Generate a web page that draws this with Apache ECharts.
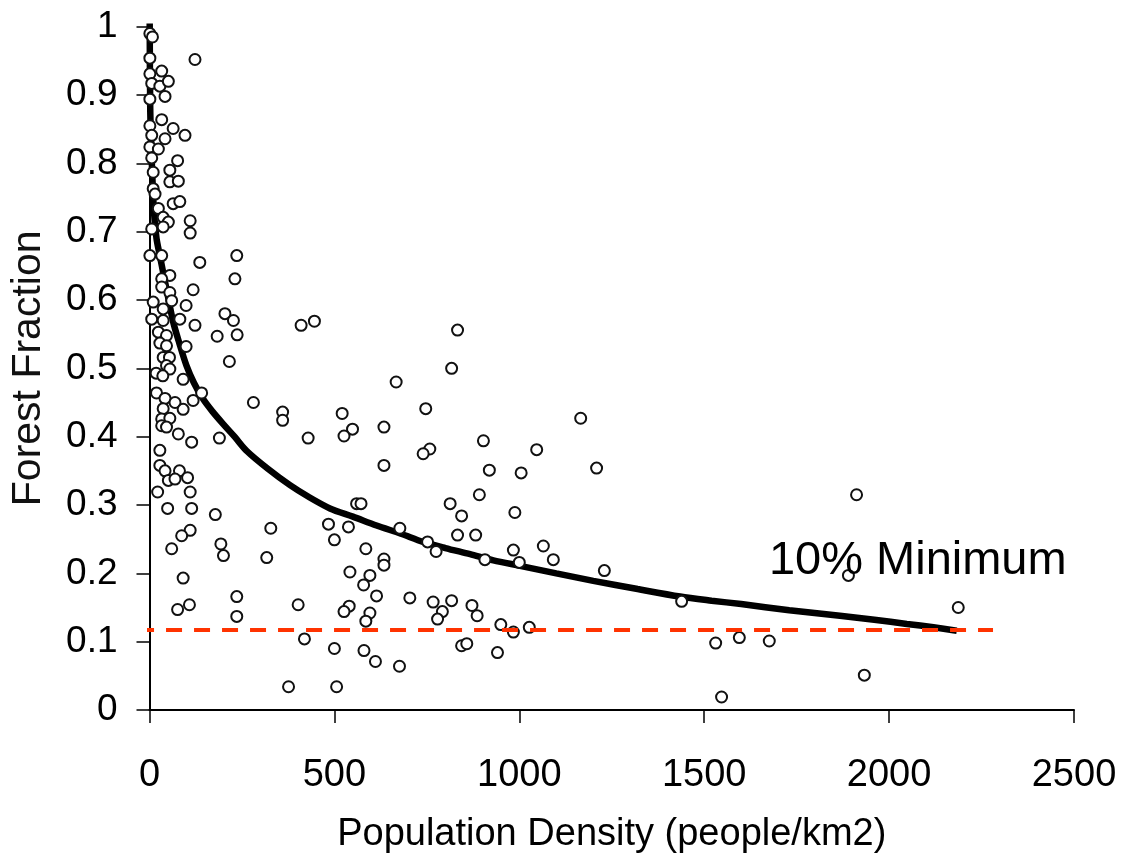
<!DOCTYPE html>
<html>
<head>
<meta charset="utf-8">
<title>Forest Fraction vs Population Density</title>
<script src="https://cdn.jsdelivr.net/npm/echarts@6/dist/echarts.min.js"></script>
<style>
	html, body { margin: 0; padding: 0; background: #fff; }
	#chart { width: 1132px; height: 859px; }
</style>
</head>
<body>
<div id="chart"></div>
<script>
	// observed points [population density, forest fraction]
	var points = [
		[1, 0.99], [8, 0.985], [123, 0.952], [1, 0.954], [1, 0.931], [33, 0.935], [6, 0.917], [28, 0.913],
		[51, 0.92], [42, 0.898], [1, 0.894], [33, 0.864], [1, 0.855], [64, 0.851], [96, 0.841], [6, 0.841],
		[42, 0.836], [1, 0.824], [24, 0.821], [6, 0.808], [76, 0.804], [55, 0.79], [10, 0.787], [55, 0.773],
		[78, 0.774], [10, 0.763], [15, 0.755], [64, 0.741], [82, 0.744], [24, 0.734], [37, 0.721], [110, 0.716],
		[110, 0.698], [51, 0.714], [6, 0.704], [37, 0.707],
		[1, 0.665], [33, 0.665], [136, 0.655], [236, 0.665], [231, 0.631], [55, 0.636], [33, 0.631], [33, 0.619],
		[55, 0.611], [118, 0.615], [60, 0.599], [10, 0.597], [99, 0.592], [37, 0.587], [6, 0.572], [37, 0.57],
		[82, 0.572], [204, 0.58], [227, 0.57], [123, 0.563], [24, 0.553], [46, 0.548], [183, 0.547], [237, 0.549],
		[28, 0.537], [46, 0.533], [99, 0.532], [37, 0.516], [54, 0.516], [216, 0.51], [46, 0.504], [55, 0.499],
		[18, 0.493], [36, 0.489], [91, 0.484], [19, 0.464], [42, 0.456], [69, 0.45], [118, 0.453], [141, 0.464],
		[37, 0.441], [91, 0.44], [33, 0.426], [55, 0.427], [33, 0.416], [46, 0.414], [78, 0.404], [114, 0.392],
		[189, 0.398], [28, 0.38], [28, 0.358], [42, 0.35], [81, 0.35], [103, 0.34],
		[51, 0.336], [69, 0.338], [22, 0.319], [110, 0.319], [49, 0.295], [114, 0.295], [178, 0.286], [110, 0.263],
		[87, 0.255], [60, 0.236], [193, 0.243], [200, 0.226], [91, 0.193], [236, 0.166], [236, 0.137], [108, 0.154],
		[76, 0.147],
		[410, 0.563], [446, 0.569], [833, 0.556], [817, 0.5], [667, 0.48], [281, 0.45], [360, 0.436], [360, 0.424],
		[521, 0.434], [549, 0.411], [526, 0.401], [634, 0.414], [747, 0.441], [758, 0.382], [740, 0.375], [429, 0.398],
		[634, 0.358],
		[328, 0.266], [317, 0.223], [402, 0.154], [560, 0.302], [572, 0.302], [484, 0.272], [538, 0.268], [500, 0.249],
		[585, 0.236], [634, 0.221], [634, 0.212], [677, 0.266], [752, 0.246], [775, 0.232], [813, 0.302], [844, 0.284],
		[833, 0.256], [542, 0.202], [596, 0.197], [579, 0.183], [614, 0.167], [704, 0.164], [540, 0.152], [526, 0.144],
		[596, 0.142], [585, 0.13], [767, 0.158], [792, 0.144], [779, 0.133], [817, 0.16], [419, 0.104], [500, 0.09],
		[580, 0.087], [611, 0.071], [676, 0.064], [844, 0.094], [858, 0.097], [376, 0.034], [506, 0.034],
		[1166, 0.427], [903, 0.394], [1047, 0.381], [919, 0.351], [1005, 0.347], [1209, 0.354],
		[892, 0.315], [988, 0.289], [882, 0.256], [984, 0.234], [907, 0.22], [1000, 0.216], [1065, 0.24], [1092, 0.22],
		[1230, 0.204], [1439, 0.159], [872, 0.153], [886, 0.138], [950, 0.125], [984, 0.114], [1027, 0.121], [941, 0.084],
		[1531, 0.098], [1595, 0.106], [1547, 0.019],
		[1912, 0.315], [1890, 0.197], [2187, 0.15], [1676, 0.101], [1933, 0.051]
	];

	// fitted trend
	var trend = [
		[0.5, 1.01], [2, 0.88], [6, 0.805], [12, 0.73], [19, 0.69], [28, 0.665], [37, 0.64], [50, 0.605],
		[64, 0.568], [80, 0.538], [100, 0.504], [120, 0.479], [145, 0.455], [170, 0.437], [200, 0.418],
		[230, 0.4], [263, 0.379], [320, 0.353], [380, 0.329], [430, 0.312], [488, 0.295], [550, 0.283],
		[614, 0.27], [680, 0.258], [740, 0.246], [800, 0.237], [867, 0.228], [930, 0.219], [1002, 0.211],
		[1100, 0.2], [1200, 0.189], [1320, 0.177], [1435, 0.166], [1520, 0.16], [1600, 0.155], [1730, 0.146],
		[1867, 0.138], [1960, 0.132], [2048, 0.126], [2120, 0.121], [2183, 0.116]
	];

	// 10% minimum reference line
	var minLine = [[-31, 0.117], [2281, 0.117]];
	var minLabel = [[1675, 0.218]];
	var minText = '10% Minimum';

	var xTicks = [0, 500, 1000, 1500, 2000, 2500];
	var yTicks = [0, 0.1, 0.2, 0.3, 0.4, 0.5, 0.6, 0.7, 0.8, 0.9, 1];

	var font = "'Liberation Sans', Arial, sans-serif";

	var chart = echarts.init(document.getElementById('chart'), null, { renderer: 'canvas' });

	chart.setOption({
		backgroundColor: '#fff',
		animation: false,
		grid: {
			left: 149.5,
			right: 58,
			top: 26.7,
			bottom: 148
		},
		xAxis: {
			type: 'value',
			min: xTicks[0],
			max: xTicks[xTicks.length - 1],
			interval: 500,
			name: 'Population Density (people/km2)',
			nameLocation: 'middle',
			nameGap: 106,
			nameTextStyle: { color: '#000', fontSize: 38, fontFamily: font },
			axisLine: { show: true, onZero: false, lineStyle: { color: '#000', width: 2 } },
			axisTick: { show: true, length: 13, lineStyle: { color: '#000', width: 1.5 } },
			axisLabel: {
				color: '#000',
				fontSize: 38,
				fontFamily: font,
				margin: 47,
				formatter: function (v) { return String(v); }
			},
			splitLine: { show: false }
		},
		yAxis: {
			type: 'value',
			min: yTicks[0],
			max: yTicks[yTicks.length - 1],
			interval: 0.1,
			name: 'Forest Fraction',
			nameLocation: 'middle',
			nameGap: 100,
			nameTextStyle: { color: '#111', fontSize: 41, fontFamily: font },
			axisLine: { show: true, lineStyle: { color: '#000', width: 2 } },
			axisTick: { show: true, length: 13, lineStyle: { color: '#000', width: 1.5 } },
			axisLabel: {
				color: '#000',
				fontSize: 37,
				fontFamily: font,
				margin: 32,
				formatter: function (v) { return String(+v.toFixed(1)); }
			},
			splitLine: { show: false }
		},
		series: [
			{
				name: 'trend',
				type: 'line',
				data: trend,
				smooth: 0.3,
				symbol: 'none',
				z: 2,
				lineStyle: { color: '#000', width: 6.5 }
			},
			{
				name: 'points',
				type: 'scatter',
				data: points,
				symbol: 'circle',
				symbolSize: 11,
				z: 3,
				itemStyle: { color: '#fff', borderColor: '#111', borderWidth: 2, opacity: 1 }
			},
			{
				name: 'minimum',
				type: 'line',
				data: minLine,
				symbol: 'none',
				clip: false,
				z: 4,
				lineStyle: { color: '#ff3300', width: 4, type: [16, 12] }
			},
			{
				name: 'minLabel',
				type: 'scatter',
				data: minLabel,
				symbolSize: 0,
				z: 5,
				itemStyle: { opacity: 1 },
				label: {
					show: true,
					position: 'right',
					distance: 0,
					formatter: minText,
					color: '#000',
					fontSize: 47,
					fontFamily: font
				}
			}
		]
	});
</script>
</body>
</html>
